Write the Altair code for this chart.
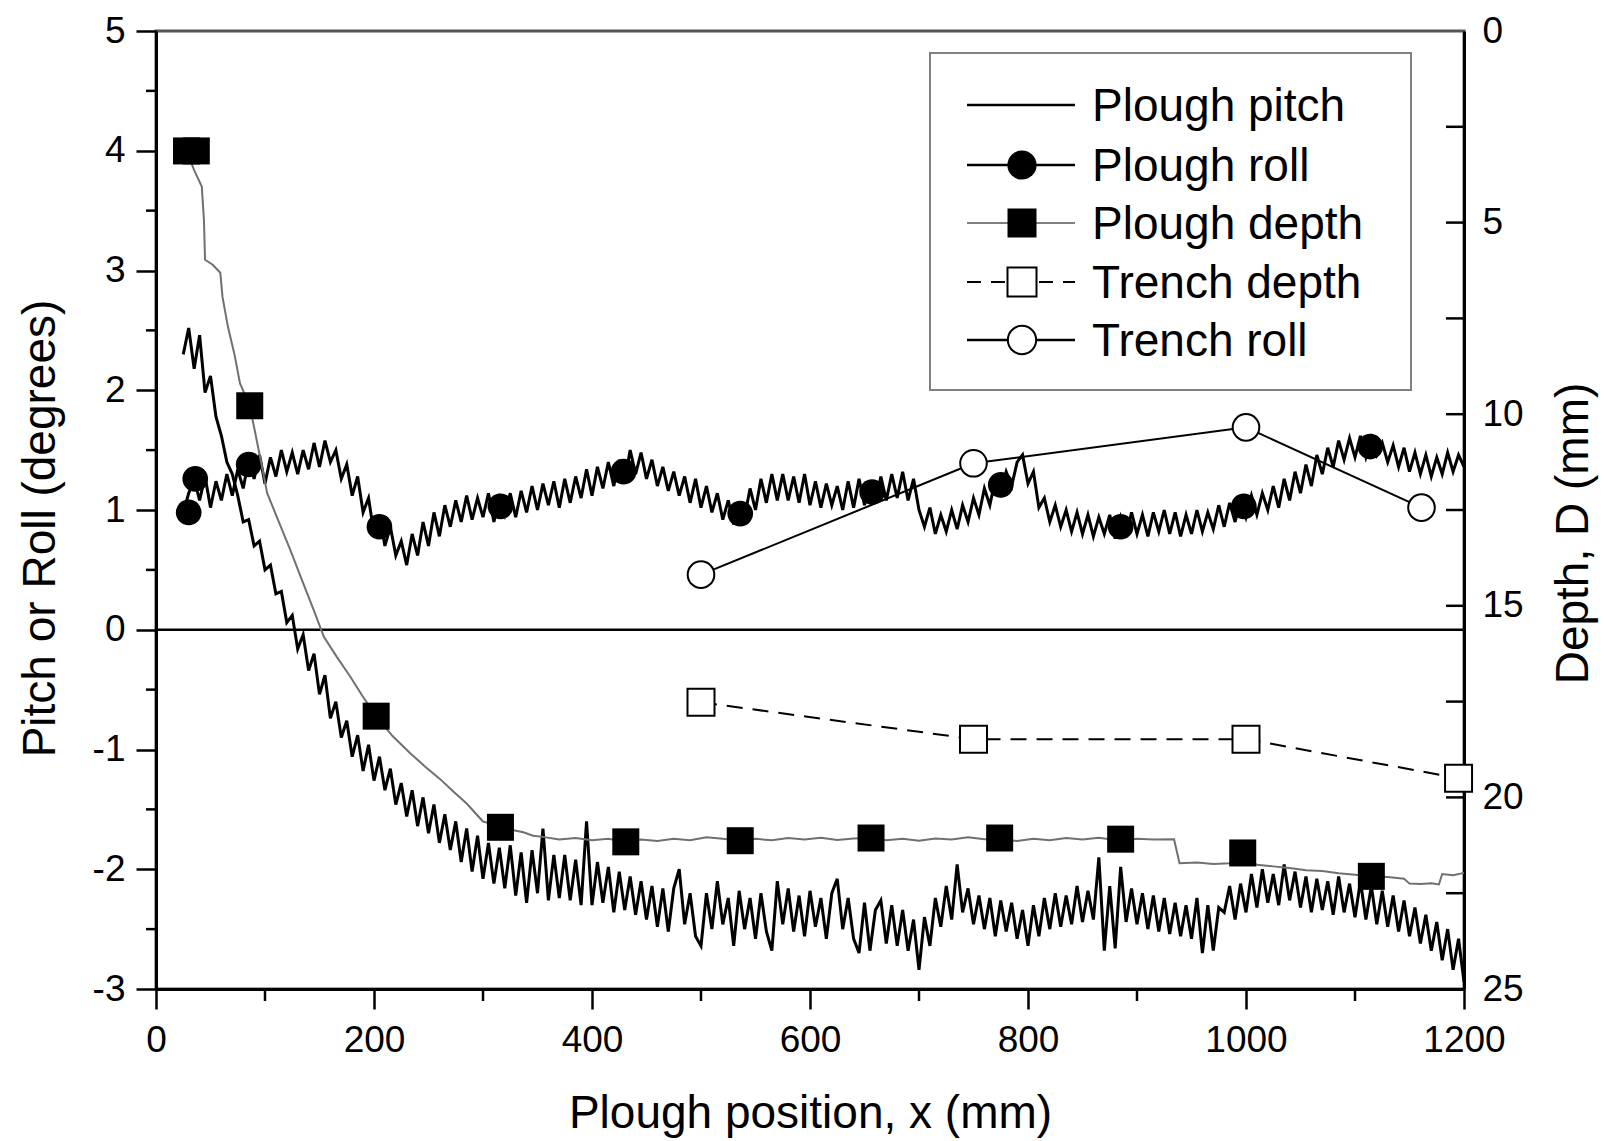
import altair as alt
import pandas as pd

W, H = 1308, 958
FONT = "Liberation Sans"

# ---------------- data ----------------
SAMPLE_START = 25   # mm, first sample of the pitch / roll records
SAMPLE_STEP = 5     # mm between samples

# Plough pitch (degrees), left axis
PITCH = [
    2.30, 2.52, 2.18, 2.46, 1.98, 2.12, 1.78, 1.62, 1.40, 1.30,
    1.12, 0.90, 0.92, 0.70, 0.74, 0.50, 0.54, 0.30, 0.32, 0.06,
    0.12, -0.16, -0.04, -0.34, -0.20, -0.54, -0.38, -0.74, -0.60, -0.90,
    -0.76, -1.06, -0.88, -1.18, -0.96, -1.26, -1.06, -1.34, -1.16, -1.46,
    -1.28, -1.56, -1.34, -1.64, -1.40, -1.70, -1.46, -1.78, -1.54, -1.84,
    -1.60, -1.94, -1.66, -2.02, -1.72, -2.08, -1.78, -2.12, -1.82, -2.16,
    -1.80, -2.22, -1.86, -2.28, -1.84, -2.20, -1.66, -2.26, -1.88, -2.24,
    -1.88, -2.26, -1.92, -2.30, -1.60, -2.30, -1.94, -2.28, -1.98, -2.36,
    -2.02, -2.34, -2.06, -2.38, -2.10, -2.42, -2.14, -2.48, -2.16, -2.52,
    -2.16, -2.00, -2.46, -2.20, -2.56, -2.64, -2.20, -2.50, -2.10, -2.46,
    -2.24, -2.64, -2.18, -2.50, -2.24, -2.58, -2.20, -2.52, -2.68, -2.10,
    -2.46, -2.16, -2.52, -2.22, -2.56, -2.18, -2.48, -2.24, -2.58, -2.20,
    -2.08, -2.50, -2.24, -2.58, -2.70, -2.28, -2.68, -2.34, -2.26, -2.62,
    -2.30, -2.64, -2.34, -2.68, -2.42, -2.84, -2.40, -2.64, -2.24, -2.48,
    -2.14, -2.42, -1.96, -2.36, -2.16, -2.46, -2.22, -2.50, -2.24, -2.56,
    -2.26, -2.52, -2.28, -2.58, -2.34, -2.64, -2.30, -2.56, -2.24, -2.50,
    -2.20, -2.48, -2.22, -2.46, -2.14, -2.44, -2.18, -2.42, -1.90, -2.68,
    -2.14, -2.66, -1.98, -2.44, -2.16, -2.46, -2.20, -2.50, -2.22, -2.52,
    -2.24, -2.54, -2.28, -2.56, -2.30, -2.58, -2.24, -2.70, -2.30, -2.68,
    -2.32, -2.36, -2.14, -2.42, -2.12, -2.36, -2.04, -2.32, -2.00, -2.28,
    -2.04, -2.30, -1.96, -2.26, -2.02, -2.32, -2.06, -2.36, -2.08, -2.34,
    -2.10, -2.38, -2.06, -2.36, -2.12, -2.40, -2.10, -2.42, -2.14, -2.46,
    -2.18, -2.48, -2.22, -2.52, -2.26, -2.56, -2.32, -2.62, -2.38, -2.68,
    -2.44, -2.76, -2.50, -2.84, -2.58, -2.94,
]

# Plough roll (degrees), left axis
ROLL = [
    0.98, 1.14, 1.26, 1.08, 1.28, 1.02, 1.24, 1.08, 1.30, 1.12,
    1.34, 1.18, 1.42, 1.26, 1.46, 1.22, 1.44, 1.28, 1.50, 1.32,
    1.48, 1.30, 1.50, 1.34, 1.56, 1.36, 1.58, 1.40, 1.50, 1.26,
    1.38, 1.12, 1.28, 0.98, 1.10, 0.80, 0.96, 0.70, 0.86, 0.62,
    0.74, 0.54, 0.80, 0.62, 0.90, 0.70, 0.98, 0.78, 1.04, 0.86,
    1.08, 0.90, 1.12, 0.92, 1.10, 0.94, 1.14, 0.90, 1.10, 0.96,
    1.14, 0.94, 1.16, 0.98, 1.20, 1.00, 1.22, 1.04, 1.24, 1.02,
    1.26, 1.06, 1.28, 1.10, 1.34, 1.12, 1.36, 1.18, 1.40, 1.20,
    1.42, 1.24, 1.50, 1.30, 1.48, 1.26, 1.42, 1.20, 1.36, 1.16,
    1.32, 1.12, 1.28, 1.06, 1.26, 1.02, 1.20, 0.98, 1.14, 0.92,
    1.08, 0.88, 1.04, 0.94, 1.18, 1.00, 1.26, 1.06, 1.30, 1.08,
    1.30, 1.08, 1.28, 1.06, 1.30, 1.04, 1.24, 1.02, 1.22, 1.04,
    1.20, 1.00, 1.24, 1.02, 1.26, 1.04, 1.24, 1.06, 1.28, 1.08,
    1.30, 1.10, 1.32, 1.08, 1.26, 1.00, 0.86, 1.02, 0.80, 0.96,
    0.82, 1.00, 0.84, 1.04, 0.90, 1.10, 0.96, 1.18, 1.04, 1.26,
    1.14, 1.32, 1.20, 1.40, 1.46, 1.22, 1.32, 1.02, 1.10, 0.90,
    1.04, 0.86, 1.00, 0.82, 0.98, 0.80, 0.96, 0.78, 0.94, 0.80,
    0.96, 0.76, 0.94, 0.78, 0.98, 0.80, 0.96, 0.78, 0.98, 0.82,
    1.00, 0.80, 0.98, 0.78, 0.96, 0.80, 1.00, 0.82, 0.98, 0.84,
    1.04, 0.86, 1.06, 0.90, 1.10, 0.94, 1.12, 0.96, 1.14, 1.00,
    1.20, 1.02, 1.26, 1.08, 1.32, 1.14, 1.38, 1.20, 1.46, 1.30,
    1.52, 1.36, 1.58, 1.42, 1.60, 1.44, 1.62, 1.44, 1.60, 1.46,
    1.56, 1.40, 1.54, 1.36, 1.52, 1.32, 1.48, 1.30, 1.46, 1.28,
    1.44, 1.30, 1.48, 1.32, 1.46, 1.36,
]
ROLL_MARK_X = [30, 36, 85, 205, 316, 429, 536, 657, 775, 885, 998, 1114]
ROLL_MARK_Y = [0.98, 1.26, 1.38, 0.86, 1.03, 1.32, 0.97, 1.15, 1.21, 0.86, 1.03, 1.53]

# Plough depth D (mm), right axis
DEPTH_X = [
    28, 35, 42, 44, 45, 52, 59, 61, 66, 72,
    77, 86, 96, 102, 111, 123, 135, 145, 154, 166,
    178, 190, 202, 217, 233, 247, 261, 273, 285, 300,
    316, 327, 337, 346, 355, 370, 385, 400, 415, 430,
    445, 460, 475, 490, 505, 520, 536, 550, 565, 580,
    595, 610, 625, 640, 656, 670, 685, 700, 715, 730,
    745, 760, 774, 790, 805, 820, 835, 850, 865, 885,
    900, 915, 934, 939, 955, 970, 985, 997, 1010, 1025,
    1040, 1055, 1070, 1085, 1100, 1115, 1130, 1145, 1150, 1160,
    1170, 1177, 1180, 1190, 1200,
]
DEPTH_D = [
    3.13, 3.63, 4.06, 4.94, 5.97, 6.10, 6.31, 6.94, 7.72, 8.44,
    9.19, 9.78, 11.19, 12.06, 12.69, 13.53, 14.41, 15.13, 15.81, 16.34,
    16.84, 17.38, 17.88, 18.40, 18.84, 19.20, 19.53, 19.85, 20.16, 20.63,
    20.75, 20.85, 20.91, 21.00, 21.03, 21.10, 21.06, 21.12, 21.08, 21.16,
    21.10, 21.14, 21.08, 21.12, 21.04, 21.08, 21.13, 21.08, 21.12, 21.06,
    21.10, 21.05, 21.11, 21.07, 21.06, 21.12, 21.08, 21.13, 21.07, 21.10,
    21.04, 21.09, 21.09, 21.14, 21.08, 21.12, 21.06, 21.10, 21.05, 21.13,
    21.08, 21.10, 21.09, 21.72, 21.70, 21.74, 21.72, 21.50, 21.76, 21.80,
    21.84, 21.90, 21.92, 21.98, 22.02, 22.06, 22.08, 22.12, 22.25, 22.26,
    22.24, 22.27, 22.00, 22.03, 21.97,
]
DEPTH_MARK_X = [28, 37, 86, 202, 316, 431, 536, 656, 774, 885, 997, 1115]
DEPTH_MARK_D = [3.13, 3.13, 9.78, 17.88, 20.78, 21.16, 21.13, 21.06, 21.06, 21.09, 21.45, 22.06]

# Trench measurements
TRENCH_DEPTH_X = [500, 750, 1000, 1195]
TRENCH_DEPTH_D = [17.52, 18.48, 18.48, 19.50]
TRENCH_ROLL_X = [500, 750, 1000, 1161]
TRENCH_ROLL_Y = [0.46, 1.39, 1.69, 1.02]

LEGEND_LABELS = ["Plough pitch", "Plough roll", "Plough depth", "Trench depth", "Trench roll"]

X_MAJOR = [0, 200, 400, 600, 800, 1000, 1200]
X_MINOR = [100, 300, 500, 700, 900, 1100]
Y_MAJOR = [-3, -2, -1, 0, 1, 2, 3, 4, 5]
Y_MINOR = [-2.5, -1.5, -0.5, 0.5, 1.5, 2.5, 3.5, 4.5]
D_MAJOR = [0, 5, 10, 15, 20, 25]
D_TICKS = [2.5, 5, 7.5, 10, 12.5, 15, 17.5, 20, 22.5]

# ---------------- scales & axes ----------------
x_scale = alt.Scale(domain=[0, 1200], nice=False, zero=False)
y_scale = alt.Scale(domain=[-3, 5], nice=False, zero=False)
d_scale = alt.Scale(domain=[0, 25], nice=False, zero=False, reverse=True)

common_axis = dict(
    grid=False, domainColor="black", domainWidth=3, tickColor="black", tickWidth=2.5,
    labelFont=FONT, labelFontSize=37, labelColor="black", labelOverlap=False,
    titleFont=FONT, titleFontSize=46, titleFontWeight="normal", titleColor="black",
)

x_axis = alt.Axis(
    values=X_MAJOR, title="Plough position, x (mm)", tickSize=20, labelPadding=13,
    labelFlush=False, labelExpr="'' + datum.value", orient="bottom",
    titleX=W / 2, titleY=138, titleAlign="center", titleBaseline="alphabetic",
    **common_axis,
)
y_axis = alt.Axis(
    values=Y_MAJOR, title="Pitch or Roll (degrees)", tickSize=20, labelPadding=11,
    labelExpr="'' + datum.value", orient="left",
    titleAngle=270, titleX=-102, titleY=497, titleAlign="center", titleBaseline="alphabetic",
    **common_axis,
)
d_axis = alt.Axis(
    values=D_MAJOR, title="Depth, D (mm)", orient="right", ticks=False, tickSize=0,
    labelPadding=18, labelExpr="'' + datum.value",
    titleAngle=270, titleX=123, titleY=502, titleAlign="center", titleBaseline="alphabetic",
    **common_axis,
)

# identical axis specs on every layer so that they merge into one axis
XE = alt.X("x:Q", scale=x_scale, axis=x_axis)
YE = alt.Y("y:Q", scale=y_scale, axis=y_axis)
DE = alt.Y("d:Q", scale=d_scale, axis=d_axis)

one = pd.DataFrame({"k": [0]})

# ---------------- left (degrees) layers ----------------
pitch_df = pd.DataFrame({"x": [SAMPLE_START + SAMPLE_STEP * i for i in range(len(PITCH))], "y": PITCH})
roll_df = pd.DataFrame({"x": [SAMPLE_START + SAMPLE_STEP * i for i in range(len(ROLL))], "y": ROLL})
roll_mk = pd.DataFrame({"x": ROLL_MARK_X, "y": ROLL_MARK_Y})
troll_df = pd.DataFrame({"x": TRENCH_ROLL_X, "y": TRENCH_ROLL_Y})

zero_line = alt.Chart(pd.DataFrame({"y": [0]})).mark_rule(color="black", strokeWidth=2.5).encode(y=YE)

pitch = alt.Chart(pitch_df).mark_line(color="black", strokeWidth=3).encode(x=XE, y=YE)
roll = alt.Chart(roll_df).mark_line(color="black", strokeWidth=3).encode(x=XE, y=YE)
roll_pts = alt.Chart(roll_mk).mark_point(
    shape="circle", filled=True, color="black", size=660, opacity=1
).encode(x=XE, y=YE)
troll_line = alt.Chart(troll_df).mark_line(color="black", strokeWidth=2).encode(x=XE, y=YE)
troll_pts = alt.Chart(troll_df).mark_point(
    shape="circle", filled=True, fill="white", stroke="black", strokeWidth=2, size=707, opacity=1
).encode(x=XE, y=YE)

x_minor = alt.Chart(pd.DataFrame({"x": X_MINOR})).mark_rule(color="black", strokeWidth=2.5).encode(
    x=XE, y=alt.value(H), y2=alt.value(H + 12)
)
y_minor = alt.Chart(pd.DataFrame({"y": Y_MINOR})).mark_rule(color="black", strokeWidth=2.5).encode(
    y=YE, x=alt.value(-10), x2=alt.value(0)
)

left = alt.layer(pitch, zero_line, roll, roll_pts, troll_line, troll_pts, x_minor, y_minor)

# ---------------- right (depth) layers ----------------
depth_df = pd.DataFrame({"x": DEPTH_X, "d": DEPTH_D})
depth_mk = pd.DataFrame({"x": DEPTH_MARK_X, "d": DEPTH_MARK_D})
tdepth_df = pd.DataFrame({"x": TRENCH_DEPTH_X, "d": TRENCH_DEPTH_D})

depth_line = alt.Chart(depth_df).mark_line(color="#707070", strokeWidth=2).encode(x=XE, y=DE)
depth_pts = alt.Chart(depth_mk).mark_point(
    shape="square", filled=True, color="black", size=729, opacity=1
).encode(x=XE, y=DE)
tdepth_line = alt.Chart(tdepth_df).mark_line(color="black", strokeWidth=2, strokeDash=[16, 10]).encode(x=XE, y=DE)
tdepth_pts = alt.Chart(tdepth_df).mark_point(
    shape="square", filled=True, fill="white", stroke="black", strokeWidth=2, size=729, opacity=1
).encode(x=XE, y=DE)
d_ticks = alt.Chart(pd.DataFrame({"d": D_TICKS})).mark_rule(color="black", strokeWidth=2.5).encode(
    y=DE, x=alt.value(W - 18), x2=alt.value(W)
)

# ---------------- legend ----------------
LX0, LX1, LSYM, LTXT = 811, 919, 866, 936
ROWS = [74, 134, 192, 251, 309]

legend_parts = [
    alt.Chart(one).mark_rect(fill="white", stroke="#808080", strokeWidth=2).encode(
        x=alt.value(774), x2=alt.value(1255), y=alt.value(22), y2=alt.value(359)
    )
]
line_styles = [
    dict(color="black", strokeWidth=2.5),
    dict(color="black", strokeWidth=2.5),
    dict(color="#808080", strokeWidth=2),
    dict(color="black", strokeWidth=2, strokeDash=[14, 10]),
    dict(color="black", strokeWidth=2.5),
]
sym_styles = [
    None,
    dict(shape="circle", filled=True, color="black", size=855, opacity=1),
    dict(shape="square", filled=True, color="black", size=841, opacity=1),
    dict(shape="square", filled=True, fill="white", stroke="black", strokeWidth=2, size=841, opacity=1),
    dict(shape="circle", filled=True, fill="white", stroke="black", strokeWidth=2, size=800, opacity=1),
]
for label, ry, ls, ss in zip(LEGEND_LABELS, ROWS, line_styles, sym_styles):
    legend_parts.append(
        alt.Chart(one).mark_rule(**ls).encode(x=alt.value(LX0), x2=alt.value(LX1), y=alt.value(ry))
    )
    if ss is not None:
        legend_parts.append(
            alt.Chart(one).mark_point(**ss).encode(x=alt.value(LSYM), y=alt.value(ry))
        )
    legend_parts.append(
        alt.Chart(one).mark_text(
            font=FONT, fontSize=46, color="black", align="left", baseline="alphabetic", text=label
        ).encode(x=alt.value(LTXT), y=alt.value(ry + 16))
    )

right = alt.layer(depth_line, depth_pts, tdepth_line, tdepth_pts, d_ticks, *legend_parts)

chart = (
    alt.layer(left, right)
    .resolve_scale(y="independent")
    .properties(
        width=W,
        height=H,
        autosize=alt.AutoSizeParams(type="none"),
        padding={"left": 156, "top": 31, "right": 1606 - 156 - W, "bottom": 1141 - 31 - H},
        background="white",
    )
    .configure_view(stroke="#555555", strokeWidth=3)
)

chart.save("out.html", embed_options={"renderer": "svg", "actions": False})
